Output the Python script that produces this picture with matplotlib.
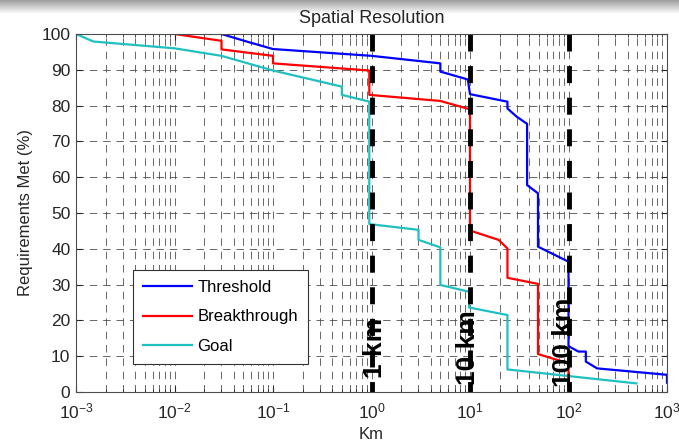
import numpy as np
import matplotlib
matplotlib.use('Agg')
import matplotlib.pyplot as plt

plt.rcParams['font.family'] = ['Liberation Sans', 'DejaVu Sans']
plt.rcParams['mathtext.default'] = 'regular'

# Data (Km, % requirements met)
thr_km = [0.03, 0.054, 0.1, 1, 5, 5, 9.5, 10, 24, 24, 29.8, 38, 38, 49, 49, 100, 100, 126, 150, 150, 195, 1000, 1000]
thr_pct = [100, 97.9, 95.8, 93.9, 91.8, 89.5, 87.3, 83.2, 81.1, 79.2, 76.9, 74.9, 57.8, 55.5, 40.6, 36.4, 12.8, 11.3, 11.3, 8.5, 6.6, 4.8, 2.6]

brk_km = [0.01, 0.03, 0.03, 0.1, 0.1, 0.95, 0.95, 5, 9.3, 10, 10, 19.5, 24, 24, 49, 49, 100, 100]
brk_pct = [100, 98.1, 95.7, 93.9, 91.8, 89.8, 83.0, 81.3, 79.2, 79.0, 45.1, 42.5, 40.1, 31.9, 30.2, 10.6, 8.0, 5.0]

goal_km = [0.001, 0.0015, 0.01, 0.03, 0.1, 0.5, 0.5, 0.95, 0.95, 3, 3, 5, 5, 9.8, 9.8, 24, 24, 490]
goal_pct = [100, 97.9, 96.0, 93.9, 89.8, 85.3, 83.0, 81.1, 46.9, 45.3, 42.5, 40.4, 29.9, 28.0, 23.6, 21.5, 6.3, 2.4]

ref_km = [1, 10, 100]
ref_labels = ['1 km', '10 km', '100 km']
ref_label_x = [1.08, 9.5, 90]
ref_label_y = [3.9, 2.0, 1.4]

fig = plt.figure(figsize=(6.79, 4.41), dpi=100)

# grey band at the top of the screenshot
band = fig.add_axes([0, 1 - 14 / 441, 1, 14 / 441])
band.imshow(np.linspace(0.62, 1.0, 50).reshape(-1, 1), cmap='gray', vmin=0, vmax=1,
            aspect='auto', extent=[0, 1, 0, 1])
band.axis('off')

ax = fig.add_axes([76 / 679, 1 - 392 / 441, (667 - 76) / 679, (392 - 34) / 441])

ax.plot(thr_km, thr_pct, color='#0000ff', lw=1.6, label='Threshold')
ax.plot(brk_km, brk_pct, color='#ff0000', lw=1.6, label='Breakthrough')
ax.plot(goal_km, goal_pct, color='#20c0c0', lw=1.6, label='Goal')

for xk, lab, lx, ly in zip(ref_km, ref_labels, ref_label_x, ref_label_y):
    ax.plot([xk, xk], [100, 0], color='black', lw=3.5, linestyle=(0, (3.5, 3)))
    ax.text(lx, ly, lab, rotation=90, ha='center', va='bottom',
            fontsize=19, fontweight='bold', zorder=5)

ax.set_xscale('log')
ax.set_xlim(1e-3, 1e3)
ax.set_ylim(0, 100)
ax.set_yticks(np.arange(0, 101, 10))
ax.grid(True, which='both', axis='x', linestyle=(0, (9, 7)), color='0.3', lw=0.6)
ax.grid(True, which='major', axis='y', linestyle=(0, (9, 7)), color='0.3', lw=0.6)
ax.tick_params(which='both', direction='in', top=True, right=True,
               labelsize=12.5, colors='0.15')
ax.tick_params(which='major', length=4)
ax.tick_params(which='minor', length=2.5)
ax.tick_params(axis='x', which='major', pad=7)
ax.tick_params(axis='y', which='major', pad=4)
for s in ax.spines.values():
    s.set_color('0.3')
    s.set_linewidth(0.8)

ax.set_title('Spatial Resolution', fontsize=13, color='0.15', pad=8)
ax.set_xlabel('Km', fontsize=12, color='0.15', labelpad=4)
ax.set_ylabel('Requirements Met (%)', fontsize=12, color='0.15', labelpad=6)

leg = ax.legend(loc='lower left', bbox_to_anchor=(0.083, 0.056), fontsize=12,
                fancybox=False, edgecolor='0.2', framealpha=1, handlelength=2.9,
                handletextpad=0.35, labelspacing=0.85, borderpad=0.6)
leg.get_frame().set_linewidth(0.8)

fig.savefig('out.png', dpi=100)
